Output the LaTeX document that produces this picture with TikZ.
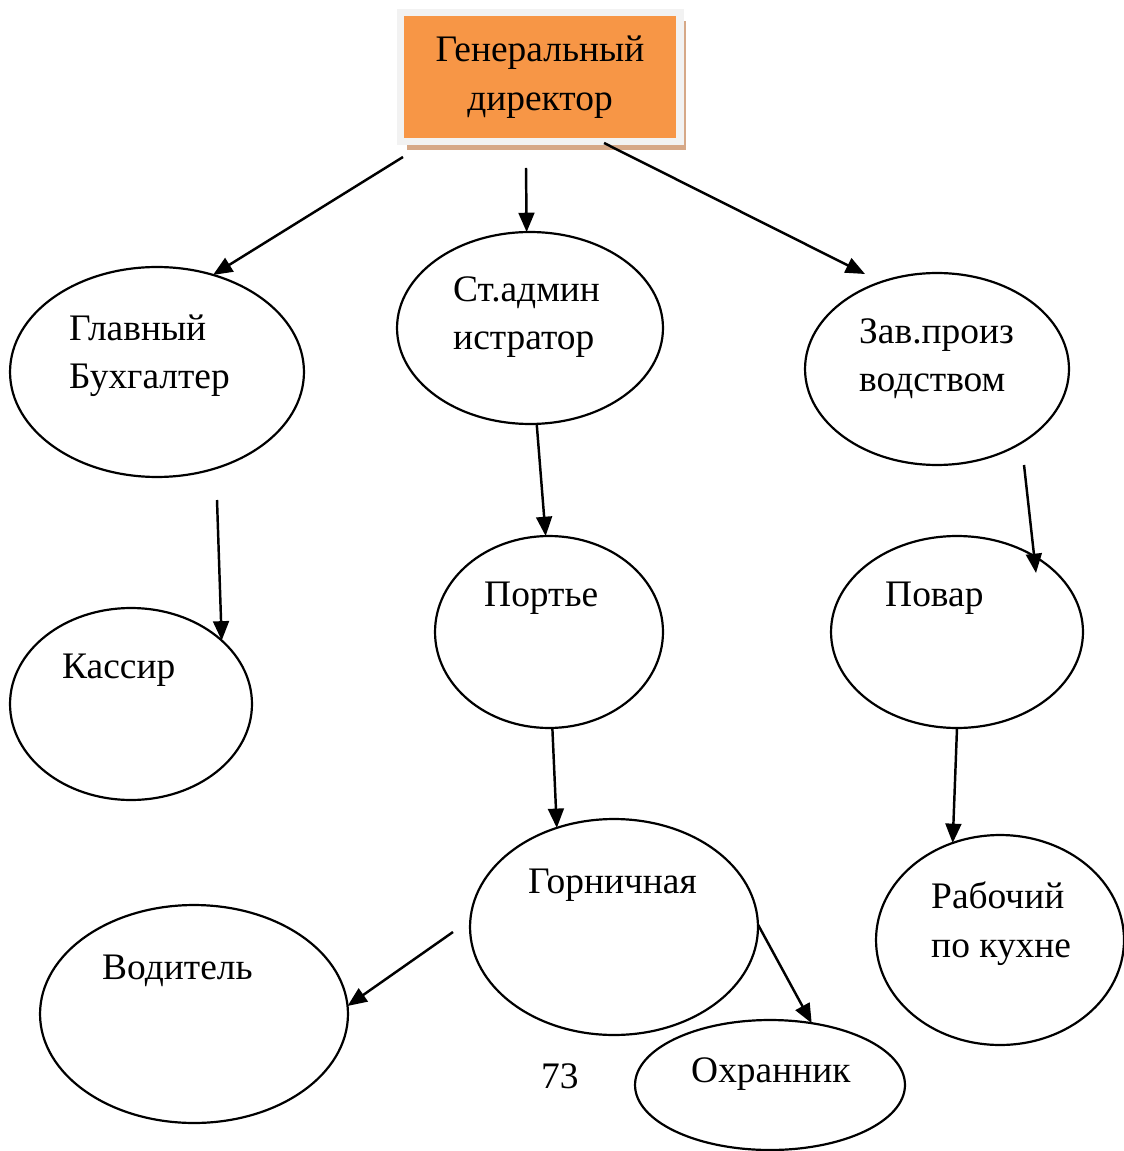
\documentclass[tikz,border=0pt]{standalone}
\usepackage{fontspec}
\setmainfont{Liberation Serif}
\usetikzlibrary{arrows.meta}
\usetikzlibrary{shapes.geometric}
\usetikzlibrary{shadows}
\definecolor{boxorange}{RGB}{247,150,70}
\definecolor{boxrim}{RGB}{242,242,242}
\definecolor{boxshadow}{RGB}{214,168,135}
\tikzset{every node/.style={font=\fontsize{21.3}{27.8}\selectfont}}

\begin{document}
\begin{tikzpicture}[x=0.02cm, y=-0.02cm,
      ->, >={Triangle[length=11pt,width=9pt]},
      line width=1.4pt,
      role/.style={ellipse, draw, line width=1.25pt,
        inner sep=0pt, outer sep=0pt},
      caption/.style={anchor=base west, align=left, inner sep=0pt},
      chief/.style={rectangle, fill=boxorange, draw=boxrim,
        line width=4pt, minimum width=5.6cm, minimum height=2.58cm,
        align=center, inner sep=0pt,
        drop shadow={fill=boxshadow, opacity=1,
          shadow xshift=0.13cm, shadow yshift=-0.17cm}}]

    \useasboundingbox (0,0) rectangle (1123,1151);

    \node[chief]
      (Director) at (540,77) {Генеральный\\директор};

    \node[role, minimum width=5.88cm, minimum height=4.2cm]
      (Accountant) at (157,372) {};
    \node[role, minimum width=5.32cm, minimum height=3.84cm]
      (Admin) at (530,328) {};
    \node[role, minimum width=5.28cm, minimum height=3.84cm]
      (Production) at (937,369) {};
    \node[role, minimum width=4.84cm, minimum height=3.84cm]
      (Cashier) at (131,704) {};
    \node[role, minimum width=4.56cm, minimum height=3.84cm]
      (Porter) at (549,632) {};
    \node[role, minimum width=5.04cm, minimum height=3.84cm]
      (Cook) at (957,632) {};
    \node[role, minimum width=5.76cm, minimum height=4.32cm]
      (Maid) at (614,927) {};
    \node[role, minimum width=6.16cm, minimum height=4.36cm]
      (Driver) at (194,1014) {};
    \node[role, minimum width=4.96cm, minimum height=4.2cm]
      (KitchenWorker) at (1000,940) {};
    \node[role, minimum width=5.4cm, minimum height=2.6cm]
      (Guard) at (770,1085) {};

    % two-line captions sit on the baseline of their last line
    \node[caption] (AccountantText) at (68,389) {Главный\\Бухгалтер};
    \node[caption] (AdminText) at (452,350) {Ст.админ\\истратор};
    \node[caption] (ProductionText) at (858,392) {Зав.произ\\водством};
    \node[caption] (CashierText) at (61,678) {Кассир};
    \node[caption] (PorterText) at (483,606) {Портье};
    \node[caption] (CookText) at (884,606) {Повар};
    \node[caption] (MaidText) at (527,893) {Горничная};
    \node[caption] (DriverText) at (101,979) {Водитель};
    \node[caption] (KitchenWorkerText) at (930,957) {Рабочий\\по кухне};
    \node[caption] (GuardText) at (690,1082) {Охранник};
    \node[caption] (PageNo) at (540,1088) {73};

    \coordinate (DirLeft) at (403,157);
    \coordinate (DirMid) at (526,168);
    \coordinate (DirRight) at (604,143);
    \coordinate (ProductionTip) at (865,274);
    \coordinate (AccountantFoot) at (217,500);
    \coordinate (ProductionFoot) at (1024,465);
    \coordinate (CookTip) at (1036,573);
    \coordinate (MaidLeft) at (453,932);

    \path
      (DirLeft) edge (Accountant.60)
      (DirMid) edge (Admin.92)
      (DirRight) edge (ProductionTip)
      (AccountantFoot) edge (Cashier.35)
      (Admin.-86) edge (Porter.92)
      (ProductionFoot) edge (CookTip)
      (Porter.-88) edge (Maid.120)
      (Cook.south) edge (KitchenWorker.116)
      (MaidLeft) edge (Driver.3)
      (Maid.1) edge (Guard.56);

  \end{tikzpicture}
\end{document}
